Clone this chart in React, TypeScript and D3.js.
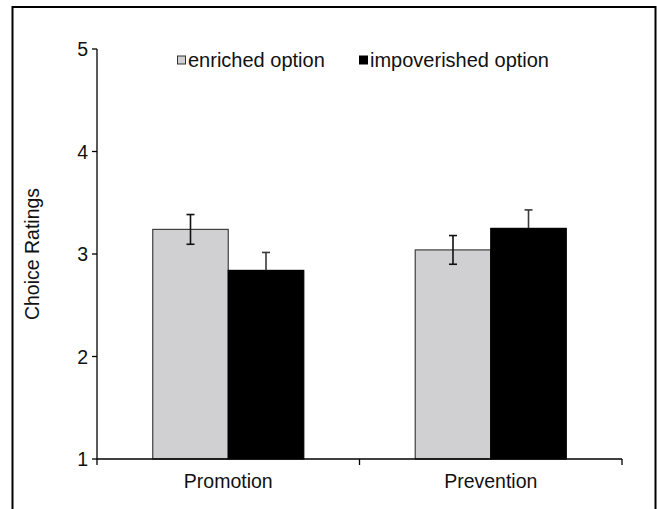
import React from "react";
import * as d3 from "d3";

const categories = ["Promotion", "Prevention"];
const seriesNames = ["enriched option", "impoverished option"];
const enrichedValues = [3.24, 3.04];
const enrichedErrors = [0.145, 0.14];
const impoverishedValues = [2.84, 3.25];
const impoverishedErrors = [0.175, 0.18];
const yTicks = [1, 2, 3, 4, 5];

const W = 657;
const H = 509;
const FONT = "'Liberation Sans', Arial, sans-serif";

export default function App() {
  const x0 = d3.scaleBand<string>().domain(categories).range([97, 622]).paddingInner(0).paddingOuter(0);
  const x1 = d3
    .scaleBand<string>()
    .domain(seriesNames)
    .range([0, x0.bandwidth()])
    .paddingInner(0)
    .paddingOuter(0.738);
  const y = d3.scaleLinear().domain([1, 5]).range([459, 49]);

  const series = [
    { name: seriesNames[0], values: enrichedValues, errors: enrichedErrors, fill: "#d0d0d2", stroke: "#404040", err: "#111" },
    { name: seriesNames[1], values: impoverishedValues, errors: impoverishedErrors, fill: "#000000", stroke: "#000000", err: "#3a3a3a" },
  ];

  const xTickPositions = [97, ...categories.map((c) => (x0(c) as number) + x0.bandwidth())];

  return (
    <svg width={W} height={H} style={{ position: "absolute", left: 0, top: 0, background: "#fff" }}>
      <rect x={0} y={0} width={W} height={H} fill="#fff" />
      {/* frame */}
      <rect x={12.5} y={7} width={643} height={520} fill="none" stroke="#000" strokeWidth={2} />

      {/* bars */}
      {series.map((s) =>
        categories.map((c, i) => {
          const bx = (x0(c) as number) + (x1(s.name) as number);
          const bw = x1.bandwidth();
          const v = s.values[i];
          return (
            <rect
              key={s.name + c}
              x={bx}
              y={y(v)}
              width={bw}
              height={y(1) - y(v)}
              fill={s.fill}
              stroke={s.stroke}
              strokeWidth={1.2}
            />
          );
        })
      )}

      {/* error bars */}
      {series.map((s) =>
        categories.map((c, i) => {
          const cx = (x0(c) as number) + (x1(s.name) as number) + x1.bandwidth() / 2;
          const v = s.values[i];
          const e = s.errors[i];
          const lowCol = s.fill === "#000000" ? "#000" : s.err;
          return (
            <g key={"e" + s.name + c} strokeWidth={1.6}>
              <line x1={cx} x2={cx} y1={y(v + e)} y2={y(v)} stroke={s.err} />
              <line x1={cx - 4} x2={cx + 4} y1={y(v + e)} y2={y(v + e)} stroke={s.err} />
              <line x1={cx} x2={cx} y1={y(v)} y2={y(v - e)} stroke={lowCol} />
              <line x1={cx - 4} x2={cx + 4} y1={y(v - e)} y2={y(v - e)} stroke={lowCol} />
            </g>
          );
        })
      )}

      {/* y axis */}
      <line x1={97} x2={97} y1={y(1)} y2={y(5)} stroke="#000" strokeWidth={1.3} />
      {yTicks.map((t) => (
        <g key={"yt" + t}>
          <line x1={92} x2={97} y1={y(t)} y2={y(t)} stroke="#000" strokeWidth={1.3} />
          <text x={88} y={y(t) + 7} textAnchor="end" fontFamily={FONT} fontSize={19.5} fill="#111">
            {t}
          </text>
        </g>
      ))}

      {/* x axis */}
      <line x1={97} x2={622} y1={y(1)} y2={y(1)} stroke="#000" strokeWidth={1.3} />
      {xTickPositions.map((p, i) => (
        <line key={"xt" + i} x1={p} x2={p} y1={y(1)} y2={y(1) + 6} stroke="#000" strokeWidth={1.3} />
      ))}
      {categories.map((c) => (
        <text
          key={"xl" + c}
          x={(x0(c) as number) + x0.bandwidth() / 2}
          y={488}
          textAnchor="middle"
          fontFamily={FONT}
          fontSize={19.5}
          fill="#111"
        >
          {c}
        </text>
      ))}

      {/* y title */}
      <text
        transform={`translate(39, ${y(3)}) rotate(-90)`}
        textAnchor="middle"
        fontFamily={FONT}
        fontSize={19.5}
        fill="#111"
      >
        Choice Ratings
      </text>

      {/* legend */}
      <rect x={177.5} y={56} width={8} height={8} fill="#d0d0d2" stroke="#333" strokeWidth={1} />
      <text x={188} y={67} fontFamily={FONT} fontSize={20} fill="#111">
        {seriesNames[0]}
      </text>
      <rect x={359} y={55.5} width={9} height={9} fill="#000" />
      <text x={370} y={67} fontFamily={FONT} fontSize={20} fill="#111">
        {seriesNames[1]}
      </text>
    </svg>
  );
}
